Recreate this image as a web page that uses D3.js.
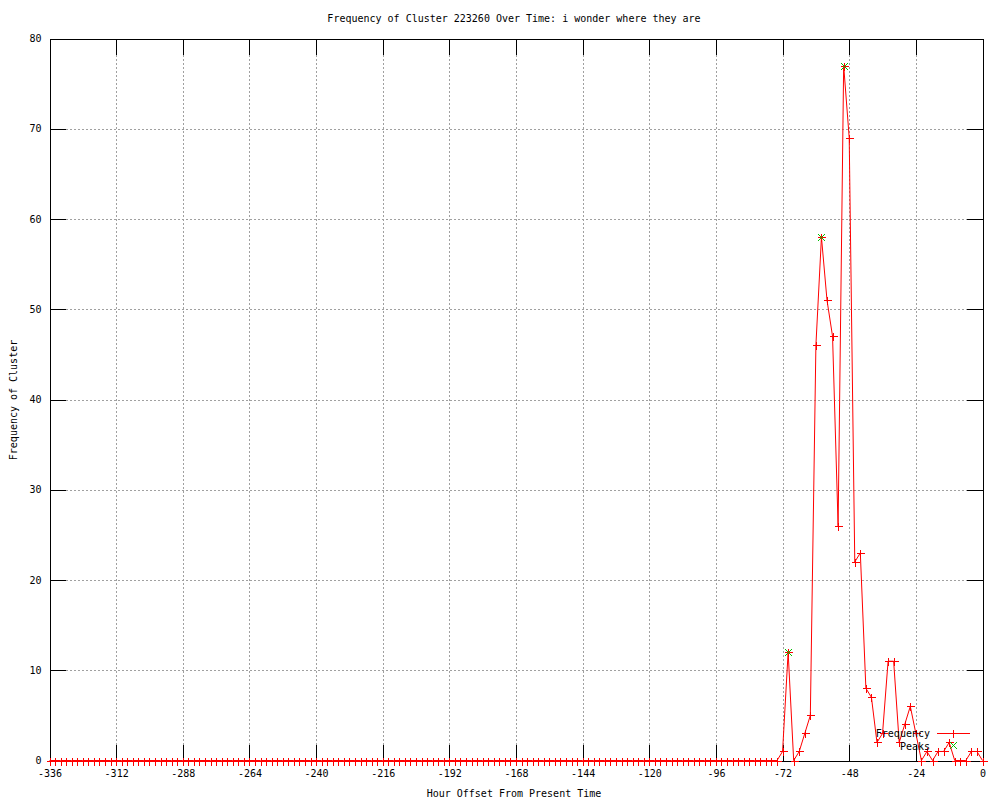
<!DOCTYPE html>
<html>
<head>
<meta charset="utf-8">
<script src="https://cdn.jsdelivr.net/npm/d3@7"></script>
<style>
    body { margin: 0; background: white; }
    text { font-family: "DejaVu Sans Mono", monospace; font-size: 10px; fill: black; }
    .grid line { stroke: #a0a0a0; stroke-dasharray: 2,2; shape-rendering: crispEdges; }
    .grid path { display: none; }
    .axis path, .axis line { stroke: black; shape-rendering: crispEdges; }
</style>
</head>
<body>
<div id="chart"></div>
<script>

// hours (offset from present), one sample every 2 hours
let hours = [
    -336,-334,-332,-330,-328,-326,-324,-322,-320,-318,-316,-314,
    -312,-310,-308,-306,-304,-302,-300,-298,-296,-294,-292,-290,
    -288,-286,-284,-282,-280,-278,-276,-274,-272,-270,-268,-266,
    -264,-262,-260,-258,-256,-254,-252,-250,-248,-246,-244,-242,
    -240,-238,-236,-234,-232,-230,-228,-226,-224,-222,-220,-218,
    -216,-214,-212,-210,-208,-206,-204,-202,-200,-198,-196,-194,
    -192,-190,-188,-186,-184,-182,-180,-178,-176,-174,-172,-170,
    -168,-166,-164,-162,-160,-158,-156,-154,-152,-150,-148,-146,
    -144,-142,-140,-138,-136,-134,-132,-130,-128,-126,-124,-122,
    -120,-118,-116,-114,-112,-110,-108,-106,-104,-102,-100,-98,
    -96,-94,-92,-90,-88,-86,-84,-82,-80,-78,-76,-74,
    -72,-70,-68,-66,-64,-62,-60,-58,-56,-54,-52,-50,
    -48,-46,-44,-42,-40,-38,-36,-34,-32,-30,-28,-26,
    -24,-22,-20,-18,-16,-14,-12,-10,-8,-6,-4,-2,
    0
];

// frequency of the cluster at each hour
let frequency = [
    0,0,0,0,0,0,0,0,0,0,0,0,
    0,0,0,0,0,0,0,0,0,0,0,0,
    0,0,0,0,0,0,0,0,0,0,0,0,
    0,0,0,0,0,0,0,0,0,0,0,0,
    0,0,0,0,0,0,0,0,0,0,0,0,
    0,0,0,0,0,0,0,0,0,0,0,0,
    0,0,0,0,0,0,0,0,0,0,0,0,
    0,0,0,0,0,0,0,0,0,0,0,0,
    0,0,0,0,0,0,0,0,0,0,0,0,
    0,0,0,0,0,0,0,0,0,0,0,0,
    0,0,0,0,0,0,0,0,0,0,0,0,
    1,12,0,1,3,5,46,58,51,47,26,77,
    69,22,23,8,7,2,3,11,11,2,4,6,
    3,0,1,0,1,1,2,0,0,0,1,1,
    0
];

// detected peaks
let peakHours = [-70, -58, -50];
let peakValues = [12, 58, 77];

// axis ticks
let xTicks = [-336,-312,-288,-264,-240,-216,-192,-168,-144,-120,-96,-72,-48,-24,0];
let yTicks = [0,10,20,30,40,50,60,70,80];

let titleText = "Frequency of Cluster 223260 Over Time: i wonder where they are";
let xLabelText = "Hour Offset From Present Time";
let yLabelText = "Frequency of Cluster";


let width = 1000, height = 800;
let plot = {left: 49.5, right: 982.5, top: 38.5, bottom: 760.5};
let tickLen = 16;

let svg = d3.select("#chart").append("svg")
    .attr("width", width)
    .attr("height", height);

let x = d3.scaleLinear().domain([-336, 0]).range([plot.left, plot.right]);
let y = d3.scaleLinear().domain([0, 80]).range([plot.bottom, plot.top]);

let fmt = d => String(d).replace("\u2212", "-");

// grid
svg.append("g")
    .attr("class", "grid")
    .attr("transform", `translate(0, ${plot.bottom})`)
    .call(d3.axisBottom(x).tickValues(xTicks.slice(1, -1)).tickSize(-(plot.bottom - plot.top)).tickFormat(""));

svg.append("g")
    .attr("class", "grid")
    .attr("transform", `translate(${plot.left}, 0)`)
    .call(d3.axisLeft(y).tickValues(yTicks.slice(1, -1)).tickSize(-(plot.right - plot.left)).tickFormat(""));

// keep the grid out from under the key
svg.append("rect")
    .attr("x", 872).attr("y", 726)
    .attr("width", 100).attr("height", 27)
    .attr("fill", "white");

// axes, ticks pointing inward on all four sides
let xBottom = svg.append("g")
    .attr("class", "axis")
    .attr("transform", `translate(0, ${plot.bottom})`)
    .call(d3.axisBottom(x).tickValues(xTicks).tickSizeInner(-tickLen).tickSizeOuter(0).tickFormat(d => fmt(d3.format("d")(d))));
xBottom.selectAll("text").attr("y", 9).attr("dy", "0.71em");

svg.append("g")
    .attr("class", "axis")
    .attr("transform", `translate(0, ${plot.top})`)
    .call(d3.axisTop(x).tickValues(xTicks).tickSizeInner(-tickLen).tickSizeOuter(0).tickFormat(""));

let yLeft = svg.append("g")
    .attr("class", "axis")
    .attr("transform", `translate(${plot.left}, 0)`)
    .call(d3.axisLeft(y).tickValues(yTicks).tickSizeInner(-tickLen).tickSizeOuter(0).tickFormat(d3.format("d")));
yLeft.selectAll("text").attr("x", -8);

svg.append("g")
    .attr("class", "axis")
    .attr("transform", `translate(${plot.right}, 0)`)
    .call(d3.axisRight(y).tickValues(yTicks).tickSizeInner(-tickLen).tickSizeOuter(0).tickFormat(""));

svg.selectAll(".axis text").style("font-family", '"DejaVu Sans Mono", monospace').style("font-size", "10px");

// frequency line
let points = hours.map((h, i) => ({h: h, v: frequency[i]}));

let line = d3.line()
    .x(d => x(d.h))
    .y(d => y(d.v));

svg.append("path")
    .datum(points)
    .attr("d", line)
    .attr("fill", "none")
    .attr("stroke", "#ff0000")
    .attr("stroke-width", 1);

// plus markers
let plus = (cx, cy, r) => `M${cx - r},${cy}H${cx + r}M${cx},${cy - r}V${cy + r}`;
let cross = (cx, cy, r) => `M${cx - r},${cy - r}L${cx + r},${cy + r}M${cx - r},${cy + r}L${cx + r},${cy - r}`;

svg.append("g").selectAll("path")
    .data(points)
    .enter().append("path")
    .attr("d", d => plus(Math.round(x(d.h)) + 0.5, Math.round(y(d.v)) + 0.5, 4))
    .attr("stroke", "#ff0000")
    .attr("stroke-width", 1)
    .attr("shape-rendering", "crispEdges");

// peak markers
svg.append("g").selectAll("path")
    .data(peakHours.map((h, i) => ({h: h, v: peakValues[i]})))
    .enter().append("path")
    .attr("d", d => cross(Math.round(x(d.h)) + 0.5, Math.round(y(d.v)) + 0.5, 3.5))
    .attr("stroke", "#00c000")
    .attr("stroke-width", 1);

// key
let key = svg.append("g");
key.append("text").attr("x", 930).attr("y", 733).attr("dy", "0.35em").attr("text-anchor", "end").text("Frequency");
key.append("path").attr("d", "M937,733.5H970").attr("stroke", "#ff0000");
key.append("path").attr("d", plus(953.5, 733.5, 4)).attr("stroke", "#ff0000").attr("shape-rendering", "crispEdges");
key.append("text").attr("x", 930).attr("y", 746).attr("dy", "0.35em").attr("text-anchor", "end").text("Peaks");
key.append("path").attr("d", cross(953.5, 745.5, 3.5)).attr("stroke", "#00c000");

// titles
svg.append("text")
    .attr("x", 514).attr("y", 18).attr("dy", "0.35em")
    .attr("text-anchor", "middle")
    .text(titleText);

svg.append("text")
    .attr("x", 514).attr("y", 793).attr("dy", "0.35em")
    .attr("text-anchor", "middle")
    .text(xLabelText);

svg.append("text")
    .attr("transform", "translate(13, 400) rotate(-90)")
    .attr("dy", "0.35em")
    .attr("text-anchor", "middle")
    .text(yLabelText);

</script>
</body>
</html>
